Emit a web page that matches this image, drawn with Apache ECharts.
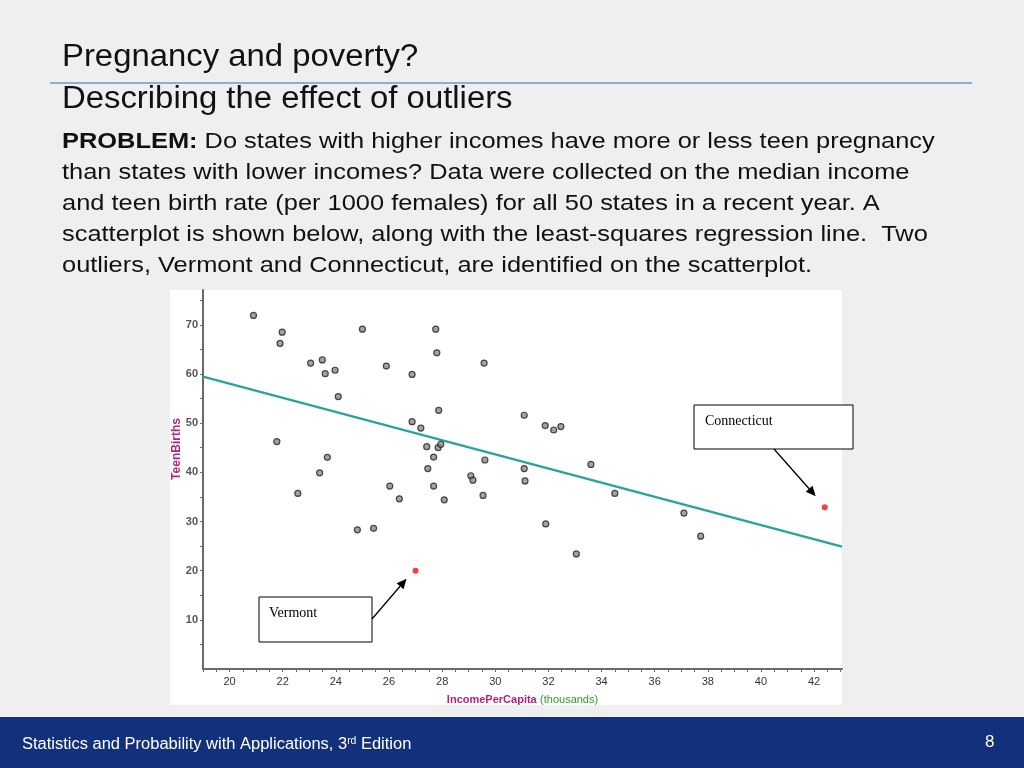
<!DOCTYPE html>
<html><head><meta charset="utf-8">
<script src="https://cdn.jsdelivr.net/npm/echarts@6/dist/echarts.min.js"></script>
<style>html,body{margin:0;padding:0;background:#efefef;}#c{width:1024px;height:768px;}</style>
</head><body><div id="c"></div>
<script>
// Data read from the scatterplot (income per capita in $1000s, teen births per 1000)
const incomes = [20.9,21.98,21.9,23.05,23.49,23.6,23.97,24.09,25.0,25.9,
  27.76,27.8,29.58,26.87,27.87,31.09,26.87,27.2,31.88,32.2,32.47,
  27.42,27.85,27.95,27.68,27.46,29.61,31.09,33.6,29.08,29.16,31.12,26.03,27.68,26.39,28.08,29.54,34.5,31.9,33.05,
  21.78,23.68,23.39,22.57,24.81,25.42,37.1,37.73];
const teenBirths = [71.9,68.5,66.2,62.2,62.85,60.06,60.75,55.4,69.1,61.6,
  69.1,64.3,62.2,59.9,52.6,51.6,50.3,49.0,49.5,48.6,49.3,
  45.2,45.0,45.7,43.1,40.75,42.5,40.75,41.6,39.3,38.4,38.25,37.2,37.2,34.6,34.4,35.3,35.7,29.5,23.4,
  46.25,43.05,39.9,35.7,28.3,28.6,31.7,27.0];
const outlierNames = ['Vermont','Connecticut'];
const outlierIncome = [27.0, 42.4];
const outlierBirths = [20.0, 32.9];
// least-squares line: births = a + b * income
const regIntercept = 86.75;
const regSlope = -1.437;
const xTickLabels = [20,22,24,26,28,30,32,34,36,38,40,42];
const yTickLabels = [10,20,30,40,50,60,70];

const X_MIN = 19, X_MAX = 43.05, Y_MIN = 0, Y_MAX = 77.07;
const xTicks = []; for (let v = X_MIN; v <= 43.001; v += 0.5) xTicks.push(v);
const yTicks = []; for (let v = 5; v <= 75; v += 5) yTicks.push(v);

const pts = incomes.map((x, i) => [x, teenBirths[i]]);
const outPts = outlierIncome.map((x, i) => [x, outlierBirths[i], outlierNames[i]]);
const regLine = [[X_MIN, regIntercept + regSlope * X_MIN], [X_MAX, regIntercept + regSlope * X_MAX]];

const chart = echarts.init(document.getElementById('c'), null, {renderer: 'canvas'});
const F = 'Liberation Sans, Arial, sans-serif';
const bodyLines = [
  null,
  'than states with lower incomes? Data were collected on the median income',
  'and teen birth rate (per 1000 females) for all 50 states in a recent year. A',
  'scatterplot is shown below, along with the least-squares regression line.  Two',
  'outliers, Vermont and Connecticut, are identified on the scatterplot.'
];
function txt(x, y, sx, style, z) {
  return {type:'text', x:x, y:y, scaleX:sx, z:z||5, style:Object.assign({x:0, y:0, verticalAlign:'top', align:'left'}, style)};
}
const graphics = [
  {type:'rect', z:-10, shape:{x:170,y:290,width:672,height:415}, style:{fill:'#ffffff'}},
  txt(62, 41.5, 1.06, {text:'Pregnancy and poverty?', font:'31px '+F, fill:'#111'}),
  {type:'line', shape:{x1:50,y1:83,x2:972,y2:83}, style:{stroke:'#6f94d2', lineWidth:1.5}},
  txt(62, 84, 1.06, {text:'Describing the effect of outliers', font:'31px '+F, fill:'#111'}),
  txt(62, 130.5, 1.155, {
     text:'{b|PROBLEM:} Do states with higher incomes have more or less teen pregnancy',
     font:'22px '+F, fill:'#111', rich:{b:{fontWeight:'bold', fontSize:22, fontFamily:F, fill:'#111'}}}),
  {type:'text', x:177, y:449, rotation:Math.PI/2, z:5,
     style:{x:0, y:0, text:'TeenBirths', align:'center', verticalAlign:'middle', font:'bold 12px '+F, fill:'#b5237f'}},
  {type:'rect', shape:{x:0,y:717,width:1024,height:51}, style:{fill:'#13317b'}},
  txt(22, 736, 1.03, {
     text:'Statistics and Probability with Applications, 3{s|rd} Edition',
     font:'16px '+F, fill:'#fff', rich:{s:{fontSize:10, fontFamily:F, fill:'#fff', verticalAlign:'top', padding:[0,0,8,0]}}}),
  txt(985, 734, 1, {text:'8', font:'17px '+F, fill:'#fff'}),
  {type:'rect', shape:{x:694,y:405,width:159,height:44}, style:{fill:'#fff', stroke:'#000', lineWidth:1}, z:20},
  txt(705, 414, 1, {text:'Connecticut', font:'14px Liberation Serif, Times New Roman, serif', fill:'#000'}, 21),
  {type:'rect', shape:{x:259,y:597,width:113,height:45}, style:{fill:'#fff', stroke:'#000', lineWidth:1}, z:20},
  txt(269, 606, 1, {text:'Vermont', font:'14px Liberation Serif, Times New Roman, serif', fill:'#000'}, 21)
];
for (let i = 1; i < bodyLines.length; i++) {
  graphics.push(txt(62, 130.5 + i*31, 1.155, {text:bodyLines[i], font:'22px '+F, fill:'#111'}));
}

const option = {
  animation:false,
  backgroundColor:'#efefef',
  grid:{left:203, right:182, top:290, bottom:99},
  xAxis:{type:'value', min:X_MIN, max:X_MAX,
    name:'{a|IncomePerCapita} {g|(thousands)}', nameLocation:'middle', nameGap:25,
    nameTextStyle:{rich:{a:{color:'#b5237f', fontSize:11, fontWeight:'bold', fontFamily:F}, g:{color:'#2e9a2e', fontSize:11, fontFamily:F}}},
    axisLine:{lineStyle:{color:'#6a6a6a', width:2}},
    axisTick:{customValues:xTicks, length:3, inside:false, lineStyle:{color:'#6a6a6a'}},
    axisLabel:{customValues:xTickLabels, color:'#333', fontSize:11, fontFamily:F, margin:7},
    splitLine:{show:false}},
  yAxis:{type:'value', min:Y_MIN, max:Y_MAX,
    axisLine:{lineStyle:{color:'#6a6a6a', width:2}},
    axisTick:{customValues:yTicks, length:3, lineStyle:{color:'#6a6a6a'}},
    axisLabel:{customValues:yTickLabels, color:'#555', fontSize:11, fontWeight:'bold', fontFamily:F, margin:5},
    splitLine:{show:false}},
  series:[
    {type:'line', data:regLine, symbol:'none', lineStyle:{color:'#2aa3a0', width:2.5}, z:1},
    {type:'scatter', data:pts, symbolSize:6, itemStyle:{color:'#8c8c8c', borderColor:'#222', borderWidth:1.2}, z:3},
    {type:'scatter', data:outPts, symbolSize:6, itemStyle:{color:'#ee1111'}, z:3}
  ],
  graphic: graphics
};
chart.setOption(option);

// arrows pointing toward the outlier points
function arrow(x1, y1, x2, y2) {
  const ang = Math.atan2(y2 - y1, x2 - x1), L = 10, W = 4.5;
  const bx = x2 - L*Math.cos(ang), by = y2 - L*Math.sin(ang);
  return [
    {type:'line', z:22, shape:{x1:x1,y1:y1,x2:bx,y2:by}, style:{stroke:'#000', lineWidth:1.3}},
    {type:'polygon', z:22, shape:{points:[[x2,y2],[bx - W*Math.sin(ang), by + W*Math.cos(ang)],[bx + W*Math.sin(ang), by - W*Math.cos(ang)]]}, style:{fill:'#000'}}
  ];
}
const pV = chart.convertToPixel({seriesIndex:2}, [outlierIncome[0], outlierBirths[0]]);
const pC = chart.convertToPixel({seriesIndex:2}, [outlierIncome[1], outlierBirths[1]]);
const extra = [].concat(arrow(372, 619, pV[0]-9, pV[1]+8), arrow(774, 449, pC[0]-9, pC[1]-11));
chart.setOption({graphic: graphics.concat(extra)});
</script></body></html>
